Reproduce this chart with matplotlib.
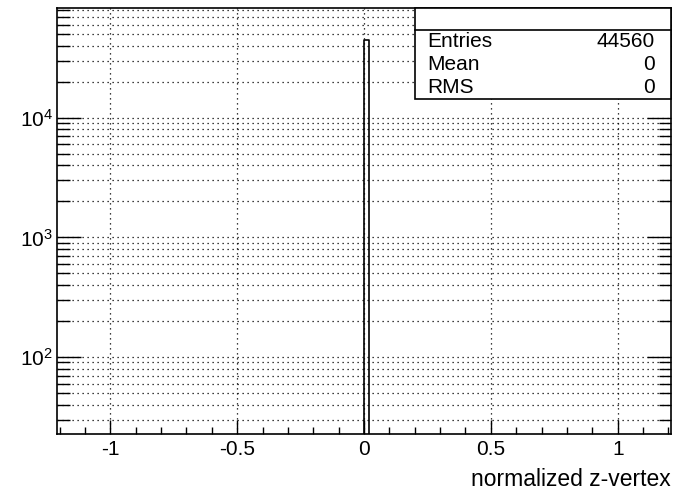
import numpy as np
import matplotlib.pyplot as plt
from matplotlib.ticker import LogLocator, MultipleLocator, FixedLocator, NullFormatter

plt.rcParams['font.family'] = ['Liberation Sans', 'DejaVu Sans']
plt.rcParams['mathtext.fontset'] = 'custom'
plt.rcParams['mathtext.rm'] = 'Liberation Sans'

### histogram data (single filled bin)
bin_edges = [0.0, 0.02]
bin_counts = [44560]
stat_names = ['Entries', 'Mean', 'RMS']
stat_values = ['44560', '0', '0']
x_ticks = [-1, -0.5, 0, 0.5, 1]
x_ticklabels = ['-1', '-0.5', '0', '0.5', '1']

### plot
fig = plt.figure(figsize=(6.86, 4.92), dpi=100)
ax = fig.add_axes([0.0831, 0.1179, 0.8950, 0.8658])

ymin, ymax = 22.7, 8.3e4
ax.set_yscale('log')
ax.set_xlim(-1.21, 1.21)
ax.set_ylim(ymin, ymax)

# histogram outline like ROOT draws it
ax.plot([bin_edges[0], bin_edges[0], bin_edges[1], bin_edges[1]],
        [ymin, bin_counts[0], bin_counts[0], ymin],
        color='black', lw=1.2, zorder=3)

## ticks
ax.xaxis.set_major_locator(FixedLocator(x_ticks))
ax.set_xticklabels(x_ticklabels)
ax.xaxis.set_minor_locator(MultipleLocator(0.1))
ax.yaxis.set_major_locator(LogLocator(base=10))
ax.yaxis.set_minor_locator(LogLocator(base=10, subs=np.arange(2, 10)))
ax.yaxis.set_minor_formatter(NullFormatter())
ax.tick_params(axis='x', which='major', direction='in', length=10, width=1, top=False,
               labelsize=15, pad=4)
ax.tick_params(axis='x', which='minor', direction='in', length=5, width=1, top=False)
ax.tick_params(axis='y', which='major', direction='in', length=17, width=1, right=True,
               labelsize=15, pad=3)
ax.tick_params(axis='y', which='minor', direction='in', length=9, width=1, right=True)

## grid
ax.grid(True, which='major', axis='x', color='black', ls=(0, (1, 3)), lw=0.9)
ax.grid(True, which='both', axis='y', color='black', ls=(0, (1, 3)), lw=0.9)
ax.set_axisbelow(True)
for s in ax.spines.values():
    s.set_linewidth(1.2)

ax.set_xlabel('normalized z-vertex', fontsize=16.5, loc='right', labelpad=7)

## stats box
bx0, bx1 = 415/686, 671/686
by_top, by_sep, by_bot = 1 - 8/492, 1 - 30/492, 1 - 99/492
box = plt.Rectangle((bx0, by_bot), bx1 - bx0, by_top - by_bot, transform=fig.transFigure,
                    facecolor='white', edgecolor='black', lw=1.2, zorder=5)
fig.add_artist(box)
fig.add_artist(plt.Line2D([bx0, bx1], [by_sep, by_sep], transform=fig.transFigure,
                          color='black', lw=1.2, zorder=6))
row_base = [47, 70, 93]
for name, val, yy in zip(stat_names, stat_values, row_base):
    fig.text(427/686, 1 - yy/492, name, fontsize=15, va='baseline', ha='left', zorder=7)
    fig.text(655/686, 1 - yy/492, val, fontsize=15, va='baseline', ha='right', zorder=7)

plt.savefig('out.png', dpi=100)
